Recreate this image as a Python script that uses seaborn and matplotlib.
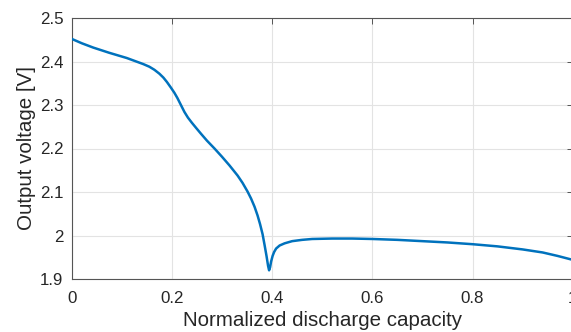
import matplotlib
matplotlib.use("Agg")
import matplotlib.pyplot as plt
import seaborn as sns
import pandas as pd

# Data
capacity = [0.0, 0.02, 0.043, 0.075, 0.11, 0.143, 0.155, 0.165, 0.175, 0.183,
            0.19, 0.198, 0.205, 0.211, 0.218, 0.225, 0.232, 0.24, 0.25, 0.258,
            0.27, 0.285, 0.30, 0.315, 0.331, 0.341, 0.351, 0.358, 0.365, 0.371,
            0.376, 0.381, 0.385, 0.389, 0.392, 0.394, 0.396, 0.398, 0.401, 0.404,
            0.408, 0.415, 0.425, 0.44, 0.46, 0.48, 0.52, 0.56, 0.60, 0.65,
            0.70, 0.75, 0.80, 0.85, 0.90, 0.94, 0.97, 1.0]
voltage = [2.452, 2.442, 2.432, 2.420, 2.408, 2.394, 2.388, 2.381, 2.372, 2.363,
           2.353, 2.340, 2.328, 2.316, 2.300, 2.284, 2.271, 2.259, 2.245, 2.234,
           2.218, 2.200, 2.181, 2.161, 2.138, 2.121, 2.101, 2.085, 2.066, 2.046,
           2.026, 2.003, 1.978, 1.952, 1.930, 1.920, 1.927, 1.940, 1.953, 1.962,
           1.970, 1.977, 1.982, 1.987, 1.990, 1.992, 1.993, 1.993, 1.992, 1.990,
           1.987, 1.984, 1.980, 1.975, 1.968, 1.961, 1.953, 1.944]
x_ticks = [0, 0.2, 0.4, 0.6, 0.8, 1.0]
x_tick_labels = ["0", "0.2", "0.4", "0.6", "0.8", "1"]
y_ticks = [1.9, 2.0, 2.1, 2.2, 2.3, 2.4, 2.5]
y_tick_labels = ["1.9", "2", "2.1", "2.2", "2.3", "2.4", "2.5"]

sns.set_style("white")
plt.rcParams['font.family'] = ['Liberation Sans', 'DejaVu Sans']

df = pd.DataFrame({"capacity": capacity, "voltage": voltage})

W, H = 571, 332
fig = plt.figure(figsize=(W / 100, H / 100), dpi=100)
ax = fig.add_axes([71.7 / W, (H - 279) / H, 501 / W, 261 / H])

sns.lineplot(data=df, x="capacity", y="voltage", ax=ax, color="#0072BD",
             linewidth=1.8, zorder=3)

ax.set_xlim(0, 1)
ax.set_ylim(1.9, 2.5)
ax.set_xticks(x_ticks)
ax.set_xticklabels(x_tick_labels)
ax.set_yticks(y_ticks)
ax.set_yticklabels(y_tick_labels)
ax.grid(True, color="#e3e3e3", linewidth=0.8, zorder=0)
ax.set_axisbelow(True)

for s in ax.spines.values():
    s.set_visible(True)
    s.set_color("#555555")
    s.set_linewidth(0.8)

ax.tick_params(axis="both", which="both", direction="in", length=4, width=0.7,
               color="#555555", top=True, right=True, labelsize=12.2,
               labelcolor="#262626")
ax.tick_params(axis="x", pad=8.5)
ax.tick_params(axis="y", pad=6)

ax.set_xlabel("Normalized discharge capacity", fontsize=14.8, color="#262626", labelpad=4)
ax.set_ylabel("Output voltage [V]", fontsize=14.8, color="#262626", labelpad=3)

fig.savefig("out.png", dpi=100)
